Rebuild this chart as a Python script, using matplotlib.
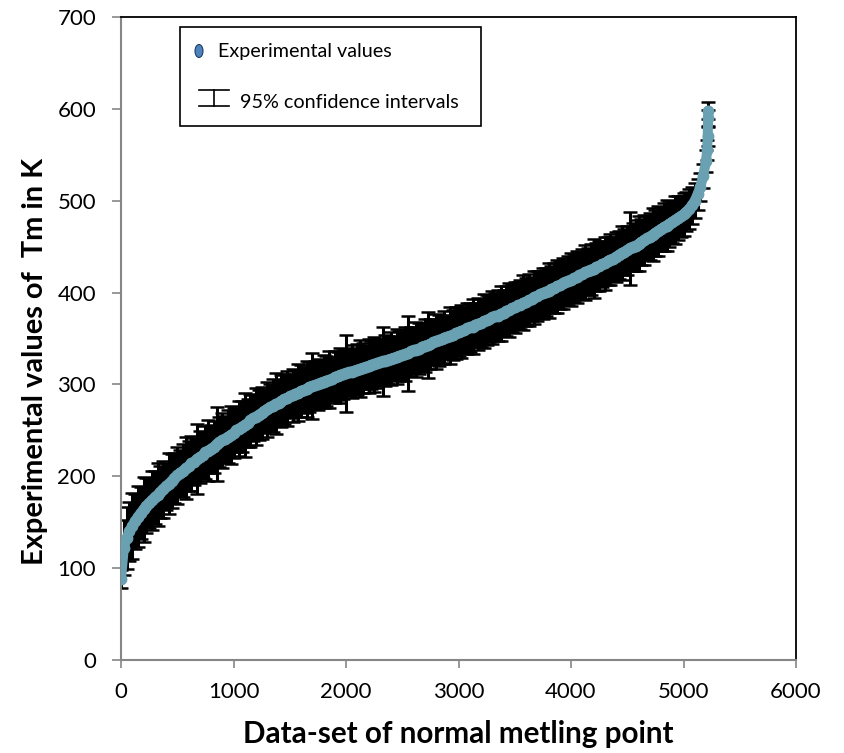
import numpy as np
import matplotlib
matplotlib.use('Agg')
import matplotlib.pyplot as plt
from matplotlib.patches import Rectangle, Ellipse
from matplotlib.lines import Line2D

plt.rcParams['font.family'] = ['Lato', 'DejaVu Sans']

# indice do dado (ordenado por Tm)
idx = list(range(0, 5201, 25)) + [5210, 5215, 5218, 5220]

# Tm experimental (K)
tm = [88, 122, 133, 140, 146, 151, 156, 160, 164, 168,
      171, 174, 177, 180, 183, 186, 189, 192, 195, 198,
      201, 204, 206, 209, 211, 214, 216, 219, 221, 223,
      226, 228, 230, 232, 235, 237, 239, 241, 243, 245,
      247, 250, 252, 254, 256, 258, 261, 263, 265, 267,
      269, 271, 273, 275, 277, 279, 280, 282, 284, 285,
      287, 288, 290, 291, 293, 294, 295, 297, 298, 299,
      300, 302, 303, 304, 305, 306, 308, 309, 310, 311,
      312, 313, 314, 315, 316, 317, 318, 319, 320, 321,
      322, 323, 324, 325, 326, 327, 328, 329, 330, 331,
      332, 333, 334, 336, 337, 338, 339, 341, 342, 343,
      344, 346, 347, 348, 349, 351, 352, 353, 354, 356,
      357, 358, 359, 361, 362, 363, 365, 366, 367, 369,
      370, 371, 373, 374, 375, 377, 378, 380, 381, 383,
      384, 386, 387, 389, 390, 392, 393, 395, 396, 398,
      399, 401, 402, 404, 405, 407, 408, 410, 411, 413,
      414, 416, 417, 419, 420, 422, 423, 425, 426, 428,
      429, 431, 432, 434, 436, 437, 439, 441, 443, 444,
      446, 448, 450, 451, 453, 455, 457, 459, 461, 463,
      465, 467, 469, 471, 473, 475, 477, 479, 481, 483,
      485, 488, 491, 495, 500, 507, 515, 527, 543,
      555, 570, 590, 598]

# meia largura do intervalo de 95% (K)
ic95 = [10, 30, 34, 32, 36, 30, 33, 28, 35, 30,
        27, 32, 29, 34, 28, 31, 26, 33, 29, 27,
        31, 25, 29, 34, 27, 30, 26, 38, 28, 25,
        29, 33, 26, 28, 40, 27, 30, 25, 29, 32,
        27, 24, 30, 28, 35, 26, 29, 25, 31, 27,
        28, 24, 30, 26, 29, 33, 25, 28, 27, 30,
        24, 29, 26, 31, 28, 25, 30, 27, 36, 26,
        28, 25, 29, 27, 31, 24, 28, 26, 30, 27,
        42, 26, 29, 25, 28, 31, 27, 24, 29, 26,
        30, 27, 25, 38, 28, 26, 29, 24, 30, 27,
        26, 29, 41, 27, 25, 30, 28, 26, 29, 36,
        27, 25, 30, 28, 26, 29, 24, 31, 27, 28,
        26, 29, 25, 28, 27, 30, 24, 28, 26, 29,
        27, 25, 29, 26, 28, 30, 25, 27, 29, 26,
        28, 25, 27, 30, 26, 28, 24, 29, 27, 26,
        28, 26, 30, 25, 27, 29, 26, 28, 25, 27,
        29, 26, 28, 25, 27, 30, 26, 28, 32, 26,
        27, 25, 29, 26, 28, 24, 27, 26, 29, 25,
        27, 40, 26, 28, 30, 25, 27, 24, 26, 29,
        25, 27, 24, 26, 28, 25, 23, 26, 24, 22,
        23, 21, 22, 20, 19, 17, 15, 13, 12,
        11, 10, 9, 9]

xticks = [0, 1000, 2000, 3000, 4000, 5000, 6000]
yticks = [0, 100, 200, 300, 400, 500, 600, 700]

W, H = 844, 753
fig = plt.figure(figsize=(W / 100, H / 100), dpi=100)
ax = fig.add_axes([121 / W, 1 - 660 / H, 675 / W, 643 / H])

ax.errorbar(idx, tm, yerr=ic95, fmt='none', ecolor='black',
            elinewidth=2.2, capsize=4.8, capthick=1.8, zorder=2)
ax.plot(idx, tm, color='#69A0B2', lw=7.2, solid_capstyle='round', zorder=3)
ax.plot(idx, tm, 'o', color='#69A0B2', ms=7.5, mec='#69A0B2', zorder=3)

ax.set_xlim(0, 6000)
ax.set_ylim(0, 700)
ax.set_xticks(xticks)
ax.set_yticks(yticks)
ax.tick_params(labelsize=16, direction='out', color='#868686', width=1.2)
ax.tick_params(axis='x', length=6, pad=10)
ax.tick_params(axis='y', length=6.5, pad=11.5)
for s in ['left', 'bottom']:
    ax.spines[s].set_color('#868686')
    ax.spines[s].set_linewidth(1.5)
for s in ['top', 'right']:
    ax.spines[s].set_color('black')
    ax.spines[s].set_linewidth(1.3)

ax.set_xlabel('Data-set of normal metling point', fontsize=21.3,
              fontweight='bold', labelpad=13)
ax.set_ylabel('Experimental values of  Tm in K', fontsize=20.9,
              fontweight='bold')
ax.yaxis.set_label_coords(-0.108, 0.464)


# legenda desenhada a mao (coordenadas em pixels da figura)
def fx(px):
    return px / W


def fy(py):
    return 1 - py / H


tf = fig.transFigure
fig.patches.append(Rectangle((fx(180), fy(126)), fx(481) - fx(180),
                             fy(27) - fy(126), transform=tf, fill=True,
                             facecolor='white', edgecolor='black', lw=1.2,
                             zorder=5))
fig.patches.append(Ellipse((fx(199), fy(51)), 8 / W, 13 / H, transform=tf,
                           facecolor='#4F81BD', edgecolor='#1F3F66',
                           lw=0.8, zorder=6))
fig.text(fx(218), fy(51), 'Experimental values', fontsize=14.2,
         va='center', ha='left', zorder=6)
fig.lines.append(Line2D([fx(199), fx(229)], [fy(90), fy(90)], transform=tf,
                        color='black', lw=1.2, zorder=6))
fig.lines.append(Line2D([fx(199), fx(229)], [fy(106), fy(106)], transform=tf,
                        color='black', lw=1.2, zorder=6))
fig.lines.append(Line2D([fx(214), fx(214)], [fy(90), fy(106)], transform=tf,
                        color='black', lw=1.2, zorder=6))
fig.text(fx(240), fy(103), '95% confidence intervals', fontsize=14.2,
         va='center', ha='left', zorder=6)

fig.savefig('out.png', dpi=100)
